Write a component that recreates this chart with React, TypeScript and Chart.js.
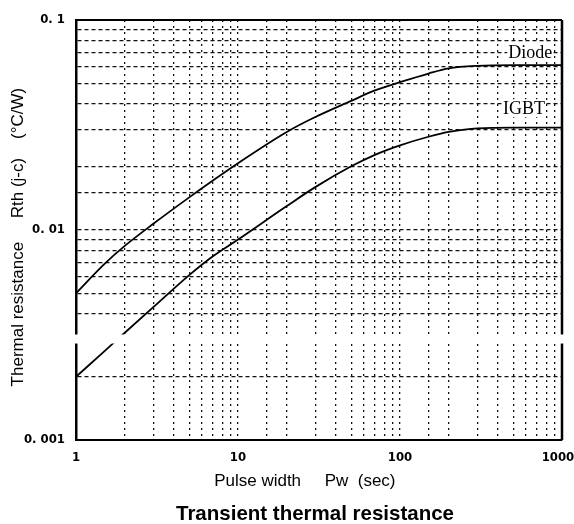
import React, { useEffect, useRef } from "react";
import { Chart, registerables } from "chart.js";

Chart.register(...registerables);

// ---- data ----
const PULSE_WIDTH = [1, 1.5, 2, 3, 5, 7, 10, 20, 30, 50, 70, 100, 150, 200, 300, 500, 1000];
const DIODE_RTH = [0.005, 0.0069, 0.0084, 0.0107, 0.0143, 0.0172, 0.0208, 0.0293, 0.0345, 0.0412, 0.0462, 0.0506, 0.0556, 0.0588, 0.0605, 0.061, 0.061];
const IGBT_RTH = [0.002, 0.00265, 0.00324, 0.00429, 0.0061, 0.0075, 0.009, 0.013, 0.016, 0.0201, 0.0228, 0.0253, 0.0278, 0.0293, 0.0305, 0.0307, 0.0307];
const SERIES_NAMES = ["Diode", "IGBT"];
const X_RANGE = [1, 1000];
const Y_RANGE = [0.001, 0.1];
const X_TICK_LABELS: Record<string, string> = { "1": "1", "10": "10", "100": "100", "1000": "1000  " };
const Y_TICK_LABELS: Record<string, string> = { "0.1": "0. 1", "0.01": "0. 01", "0.001": "0. 001" };
const X_TITLE = "Pulse width     Pw  (sec)";
const Y_TITLE = "Thermal resistance     Rth (j-c)    (°C/W)";
const CAPTION = "Transient thermal resistance";
// label anchors in data coordinates (x value, y value) for the series names
const LABEL_ANCHORS = [
  [870, 0.07],
  [785, 0.038],
];
// scan artifact: white band in value range
const BAND = [0.00288, 0.00318];

function decadeKey(v: number): string | null {
  const l = Math.log10(v);
  const r = Math.round(l);
  if (Math.abs(l - r) < 1e-6) return String(Math.pow(10, r));
  return null;
}

const framePlugin = {
  id: "frame",
  afterDraw(chart: any) {
    const { ctx, chartArea: a, scales } = chart;
    const y = scales.y;
    ctx.save();
    // top & right borders
    ctx.strokeStyle = "#000";
    ctx.lineWidth = 2;
    ctx.beginPath();
    ctx.moveTo(a.left, a.top);
    ctx.lineTo(a.right, a.top);
    ctx.stroke();
    ctx.lineWidth = 2.5;
    ctx.beginPath();
    ctx.moveTo(a.right, a.top);
    ctx.lineTo(a.right, a.bottom);
    ctx.stroke();
    // scan gap band
    const y1 = y.getPixelForValue(BAND[1]);
    const y2 = y.getPixelForValue(BAND[0]);
    ctx.fillStyle = "#fff";
    ctx.fillRect(a.left - 3, y1, a.right - a.left + 6, y2 - y1);
    // series labels
    ctx.font = "18px 'Liberation Serif', 'DejaVu Serif', serif";
    ctx.textAlign = "right";
    ctx.textBaseline = "middle";
    SERIES_NAMES.forEach((name, i) => {
      const px = scales.x.getPixelForValue(LABEL_ANCHORS[i][0]);
      const py = y.getPixelForValue(LABEL_ANCHORS[i][1]);
      const w = ctx.measureText(name).width;
      ctx.fillStyle = "#fff";
      ctx.fillRect(px - w - 1, py - 9, w + 2, 18);
      ctx.fillStyle = "#000";
      ctx.fillText(name, px, py + 1);
    });
    // caption
    ctx.font = "bold 20.5px 'Liberation Sans', Arial, sans-serif";
    ctx.textAlign = "center";
    ctx.textBaseline = "middle";
    ctx.fillStyle = "#000";
    ctx.fillText(CAPTION, (a.left + a.right) / 2 - 4, 514);
    ctx.restore();
  },
};

const TICK_FONT = {
  family: "'Liberation Sans Narrow', 'DejaVu Sans Condensed', 'Liberation Sans', sans-serif",
  size: 13,
  weight: "bold",
};

export default function App() {
  const ref = useRef<HTMLCanvasElement | null>(null);
  useEffect(() => {
    if (!ref.current) return;
    const chart = new Chart(ref.current, {
      type: "line",
      data: {
        datasets: [
          {
            label: SERIES_NAMES[0],
            data: PULSE_WIDTH.map((x, i) => ({ x, y: DIODE_RTH[i] })),
            borderColor: "#000",
            borderWidth: 1.8,
            pointRadius: 0,
            cubicInterpolationMode: "monotone",
            fill: false,
          },
          {
            label: SERIES_NAMES[1],
            data: PULSE_WIDTH.map((x, i) => ({ x, y: IGBT_RTH[i] })),
            borderColor: "#000",
            borderWidth: 1.8,
            pointRadius: 0,
            cubicInterpolationMode: "monotone",
            fill: false,
          },
        ],
      },
      options: {
        responsive: false,
        animation: false,
        devicePixelRatio: 1,
        layout: { padding: { top: 20, right: 12, bottom: 0, left: 0 } },
        plugins: { legend: { display: false }, tooltip: { enabled: false }, title: { display: false } },
        scales: {
          x: {
            type: "logarithmic",
            min: X_RANGE[0],
            max: X_RANGE[1],
            afterFit: (s: any) => {
              s.height = 84;
              s.paddingLeft = 0;
              s.paddingRight = 0;
            },
            border: { display: true, color: "#000", width: 2, dash: [2, 4] },
            grid: { color: "#111", lineWidth: 1.3, drawTicks: false },
            ticks: {
              autoSkip: false,
              maxRotation: 0,
              padding: 10,
              color: "#000",
              font: TICK_FONT,
              callback: (v: any) => {
                const k = decadeKey(Number(v));
                return k && X_TICK_LABELS[k] ? X_TICK_LABELS[k] : "";
              },
            },
            title: {
              display: true,
              text: X_TITLE + "      ",
              color: "#000",
              font: { family: "'Liberation Sans', Arial, sans-serif", size: 17 },
              padding: { top: 0, bottom: 32 },
            },
          },
          y: {
            type: "logarithmic",
            min: Y_RANGE[0],
            max: Y_RANGE[1],
            afterFit: (s: any) => {
              s.width = 76;
            },
            border: { display: true, color: "#000", width: 2.5, dash: [4, 3] },
            grid: { color: "#111", lineWidth: 1.3, drawTicks: false },
            ticks: {
              autoSkip: false,
              padding: 11,
              color: "#000",
              font: TICK_FONT,
              callback: (v: any) => {
                const k = decadeKey(Number(v));
                return k && Y_TICK_LABELS[k] ? Y_TICK_LABELS[k] : "";
              },
            },
            title: {
              display: true,
              text: Y_TITLE + "   ",
              color: "#000",
              font: { family: "'Liberation Sans', Arial, sans-serif", size: 17 },
              padding: { top: 8, bottom: 0 },
            },
          },
        },
      },
      plugins: [framePlugin],
    } as any);
    return () => chart.destroy();
  }, []);
  return (
    <div style={{ position: "absolute", left: 0, top: 0, width: 574, height: 524, background: "#fff" }}>
      <canvas ref={ref} width={574} height={524} />
    </div>
  );
}
